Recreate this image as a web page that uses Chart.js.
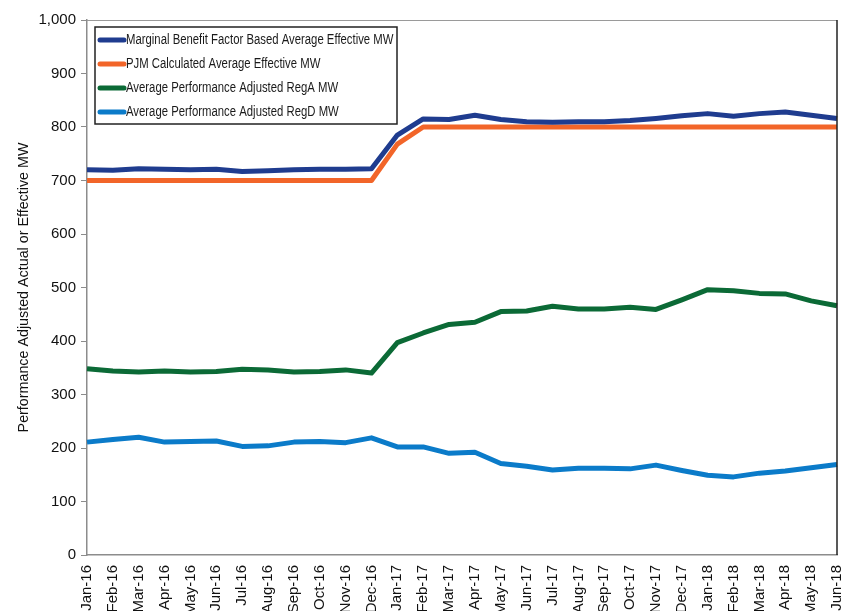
<!DOCTYPE html>
<html>
<head>
<meta charset="utf-8">
<script src="https://cdn.jsdelivr.net/npm/chart.js@4"></script>
<style>
  html, body { margin: 0; padding: 0; background: #ffffff; }
  #wrap { width: 843px; height: 611px; }
</style>
</head>
<body>
<div id="wrap"><canvas id="mwChart" width="843" height="611"></canvas></div>
<script>
const months = [
  "Jan-16", "Feb-16", "Mar-16", "Apr-16", "May-16", "Jun-16", "Jul-16", "Aug-16", "Sep-16", "Oct-16",
  "Nov-16", "Dec-16", "Jan-17", "Feb-17", "Mar-17", "Apr-17", "May-17", "Jun-17", "Jul-17", "Aug-17",
  "Sep-17", "Oct-17", "Nov-17", "Dec-17", "Jan-18", "Feb-18", "Mar-18", "Apr-18", "May-18", "Jun-18"
];

const mbfEffective = [
  720, 719, 722, 721, 720, 721, 717, 718, 720, 721,
  721, 722, 785, 815, 814, 822, 814, 810, 809, 810,
  810, 812, 816, 821, 825, 820, 825, 828, 822, 816
];

const pjmEffective = [
  700, 700, 700, 700, 700, 700, 700, 700, 700, 700,
  700, 700, 768, 800, 800, 800, 800, 800, 800, 800,
  800, 800, 800, 800, 800, 800, 800, 800, 800, 800
];

const regA = [
  348, 344, 342, 344, 342, 343, 347, 346, 342, 343,
  346, 340, 397, 415, 431, 435, 455, 456, 465, 460,
  460, 463, 459, 477, 496, 494, 489, 488, 475, 466
];

const regD = [
  211, 216, 220, 211, 212, 213, 203, 204, 211, 212,
  210, 219, 202, 202, 190, 192, 171, 166, 159, 162,
  162, 161, 168, 158, 149, 146, 153, 157, 163, 169
];

const yTicks = [0, 100, 200, 300, 400, 500, 600, 700, 800, 900, 1000];

const FONT = "'Liberation Sans', Arial, sans-serif";

function series(label, data, color) {
  return {
    label,
    data,
    borderColor: color,
    backgroundColor: color,
    borderWidth: 5,
    pointRadius: 0,
    tension: 0,
    fill: false,
    borderCapStyle: "butt",
    borderJoinStyle: "round"
  };
}

// legend drawn inside the plot, with a box round it (text a bit condensed like the original)
const insideLegend = {
  id: "insideLegend",
  afterDatasetsDraw(chart) {
    const ctx = chart.ctx;
    const x = 95, y = 27, w = 302, h = 97;
    ctx.save();
    ctx.fillStyle = "#ffffff";
    ctx.fillRect(x, y, w, h);
    ctx.strokeStyle = "#222222";
    ctx.lineWidth = 1.5;
    ctx.strokeRect(x, y, w, h);
    ctx.font = "14px " + FONT;
    ctx.textBaseline = "middle";
    chart.data.datasets.forEach((ds, i) => {
      const cy = y + 13 + i * 24;
      ctx.strokeStyle = ds.borderColor;
      ctx.lineWidth = 5;
      ctx.lineCap = "round";
      ctx.beginPath();
      ctx.moveTo(x + 5, cy);
      ctx.lineTo(x + 29, cy);
      ctx.stroke();
      ctx.save();
      ctx.translate(x + 31, cy);
      ctx.scale(0.81, 1);
      ctx.fillStyle = "#1a1a1a";
      ctx.fillText(ds.label, 0, 0);
      ctx.restore();
    });
    ctx.restore();
  }
};

// top and right edges of the plot area
const plotFrame = {
  id: "plotFrame",
  afterDraw(chart) {
    const a = chart.chartArea;
    const ctx = chart.ctx;
    ctx.save();
    ctx.lineWidth = 1;
    ctx.strokeStyle = "#9a9a9a";
    ctx.beginPath();
    ctx.moveTo(a.left, a.top + 0.5);
    ctx.lineTo(a.right, a.top + 0.5);
    ctx.stroke();
    ctx.strokeStyle = "#222222";
    ctx.lineWidth = 1.5;
    ctx.beginPath();
    ctx.moveTo(a.right, a.top);
    ctx.lineTo(a.right, a.bottom);
    ctx.stroke();
    ctx.restore();
  }
};

new Chart(document.getElementById("mwChart"), {
  type: "line",
  data: {
    labels: months,
    datasets: [
      series("Marginal Benefit Factor Based Average Effective MW", mbfEffective, "#1f3c8f"),
      series("PJM Calculated Average Effective MW", pjmEffective, "#f26529"),
      series("Average Performance Adjusted RegA MW", regA, "#0b6a36"),
      series("Average Performance Adjusted RegD MW", regD, "#0b7bc9")
    ]
  },
  options: {
    responsive: false,
    animation: false,
    devicePixelRatio: 1,
    layout: { padding: { top: 20, right: 6, left: 0, bottom: 0 } },
    plugins: {
      legend: { display: false },
      tooltip: { enabled: false }
    },
    scales: {
      x: {
        offset: false,
        grid: { display: false, drawTicks: false },
        border: { color: "#8c8c8c", width: 1.5 },
        ticks: {
          autoSkip: false,
          maxRotation: 90,
          minRotation: 90,
          padding: 10,
          color: "#111111",
          font: { family: FONT, size: 15 }
        },
        afterFit(scale) {
          scale.height = 56;
          scale.paddingLeft = 0;
          scale.paddingRight = 0;
        }
      },
      y: {
        min: 0,
        max: 1000,
        afterBuildTicks(scale) { scale.ticks = yTicks.map(v => ({ value: v })); },
        grid: { drawOnChartArea: false, drawTicks: true, tickLength: 6, color: "#8c8c8c" },
        border: { color: "#8c8c8c", width: 1.5 },
        ticks: {
          padding: 5,
          color: "#111111",
          font: { family: FONT, size: 15 },
          callback: v => v.toLocaleString("en-US")
        },
        title: {
          display: true,
          text: "Performance Adjusted Actual or Effective MW",
          color: "#111111",
          font: { family: FONT, size: 14.3 },
          padding: { top: 15, bottom: 0 }
        },
        afterFit(scale) { scale.width = 87; }
      }
    }
  },
  plugins: [insideLegend, plotFrame]
});
</script>
</body>
</html>
